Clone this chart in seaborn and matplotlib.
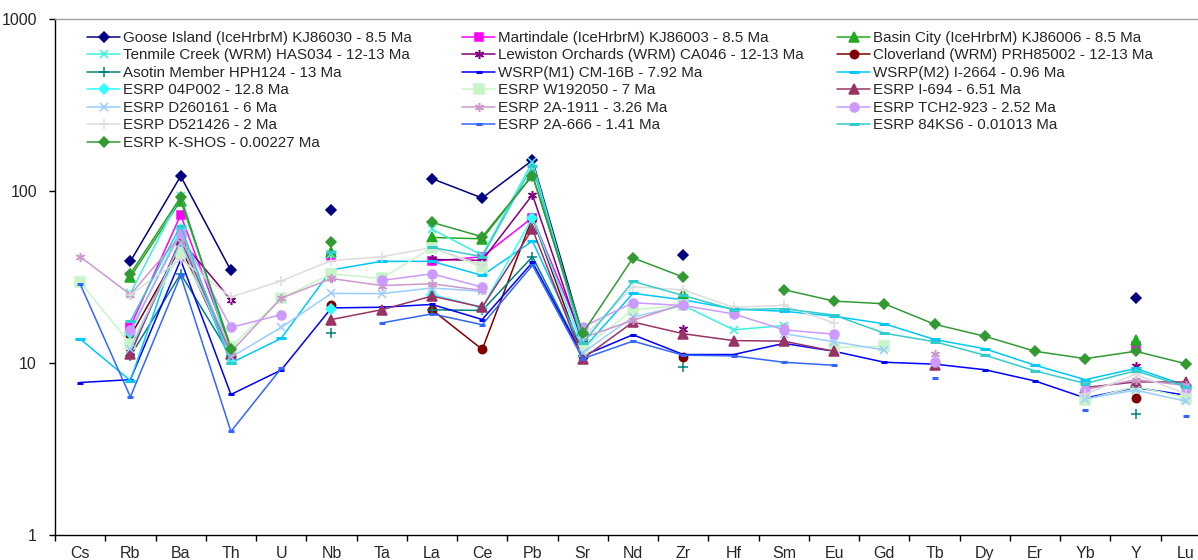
import numpy as np
import pandas as pd
import matplotlib
matplotlib.use("Agg")
import matplotlib.pyplot as plt
from matplotlib.lines import Line2D
import seaborn as sns

# ---------------------------------------------------------------- data
elements = ["Cs", "Rb", "Ba", "Th", "U", "Nb", "Ta", "La", "Ce", "Pb", "Sr", "Nd",
            "Zr", "Hf", "Sm", "Eu", "Gd", "Tb", "Dy", "Er", "Yb", "Y", "Lu"]
N = None

goose_island = [N, 39, 122, 34.5, N, 78, N, 118, 91, 151, 14.5, N, 42.5, N, N, N, N, N, N, N, N, 24, N]
martindale = [N, 16.3, 72.5, 12, N, 41.5, N, 39, 41.5, 70, 14, N, 22, N, N, N, N, N, N, N, N, 12.6, N]
basin_city = [N, 31.6, 88, 12.4, N, 44, N, 53.7, 52.7, 124, 14.5, N, 25.3, N, N, N, N, N, N, N, N, 13.6, N]
tenmile_creek = [N, 25.4, 94, 11, N, 43, N, 60, 42.3, 148, 13.5, N, 21.6, 15.6, 16.5, N, N, N, N, N, N, N, N]
lewiston_orchards = [N, 11.6, 52, 23.3, N, 31.3, N, 40, 39.5, 95, 13, N, 15.8, N, N, N, N, N, N, N, N, 9.55, N]
cloverland = [N, 14.3, 47, 11, N, 21.6, N, 20.4, 12.0, 70, 11, N, 10.8, N, N, N, N, N, N, N, N, 6.26, N]
asotin = [N, 11, 33, 11, N, 14.9, N, 20.4, 20.2, 41.5, 11, N, 9.5, N, N, N, N, N, N, N, N, 5.04, N]
wsrp_m1 = [7.7, 8.0, 39.8, 6.56, 9.1, 20.9, 21.1, 21.9, 17.9, 38.5, 11.0, 14.6, 11.2, 11.2, 13.0,
           11.7, 10.1, 9.85, 9.14, 7.86, 6.26, 7.2, 6.5]
wsrp_m2 = [13.8, 7.9, 55, 10.0, 13.9, 34.8, 39, 39, 32.3, 51.2, 12, 25.4, 23.3, 20.6, 20.0,
           18.7, 16.9, 13.7, 12.1, 9.7, 8.0, 9.3, 7.4]
esrp_04p002 = [N, 15, 60, 10.5, N, 20.6, N, 25, 21, 70, 12.5, N, N, N, N, N, N, N, N, N, N, N, N]
esrp_w192050 = [29.5, 12.9, 44, 12.4, 23.8, 33, 31, 46.9, 36, N, 12.1, 20.4, 21.6, N, N, 12.3, 12.5,
                N, N, N, 6.13, 7.3, 6.3]
esrp_i694 = [N, 11.3, 51.7, 11.3, N, 17.9, 20.4, 24.5, 21.1, 60, 10.6, 17.3, 14.8, 13.5, 13.4, 11.7,
             N, 9.7, N, N, 7.2, 7.76, 7.76]
esrp_d260161 = [N, 12, 50, 10.8, 16.1, 25.4, 25.3, 27.3, 26.1, N, 11.5, 18.5, 21.6, N, 14.8, 13.3,
                11.9, N, N, N, 6.2, 6.95, 6.0]
esrp_2a1911 = [41.5, 25, 55, 11.6, 23.8, 31, 28.2, 28.9, 26.4, N, 14, 17.7, 22, N, 16.3, N, N, 11.3,
               N, N, 7.0, 8.0, 7.4]
esrp_tch2923 = [N, 15.5, 57, 16.1, 19.1, N, 30.2, 33, 27.6, N, 16.2, 22.4, 21.6, 19.3, 15.6, 14.7,
                N, 10.1, N, N, 6.95, N, 7.1]
esrp_d521426 = [N, 25, 40, 24.2, 30, 39.4, 41.5, 46.9, 37, N, 14, 27.8, 26.6, 21.1, 21.6, 17.1,
                N, N, N, N, 6.6, 8.6, 6.6]
esrp_2a666 = [28.8, 6.35, 32.3, 4.0, 9.3, N, 17.1, 19.3, 16.7, 37, 10.6, 13.4, 11.1, 11.0, 10.1, 9.7,
              N, 8.2, N, N, 5.35, N, 4.93]
esrp_84ks6 = [N, 17.5, 63, 10, N, 44, N, 47, 41.5, 140, 13, 29.8, 24.7, 20.4, 20.7, 19.0, 14.9, 13.3,
              11.1, 9.0, 7.6, 9.0, 7.3]
esrp_kshos = [N, 33, 92, 12, N, 50.4, N, 65.7, 54.2, 123, 14.9, 40.8, 31.6, N, 26.7, 22.9, 22.1, 16.8,
              14.3, 11.7, 10.6, 11.7, 9.9]

labels = [
    "Goose Island (IceHrbrM) KJ86030 - 8.5 Ma",
    "Martindale (IceHrbrM) KJ86003 - 8.5 Ma",
    "Basin City (IceHrbrM) KJ86006 - 8.5 Ma",
    "Tenmile Creek (WRM) HAS034 - 12-13 Ma",
    "Lewiston Orchards (WRM) CA046 - 12-13 Ma",
    "Cloverland (WRM) PRH85002 - 12-13 Ma",
    "Asotin Member HPH124 - 13 Ma",
    "WSRP(M1) CM-16B - 7.92 Ma",
    "WSRP(M2) I-2664 - 0.96 Ma",
    "ESRP 04P002 - 12.8 Ma",
    "ESRP W192050 - 7 Ma",
    "ESRP I-694 - 6.51 Ma",
    "ESRP D260161 - 6 Ma",
    "ESRP 2A-1911 - 3.26 Ma",
    "ESRP TCH2-923 - 2.52 Ma",
    "ESRP D521426 - 2 Ma",
    "ESRP 2A-666 - 1.41 Ma",
    "ESRP 84KS6 - 0.01013 Ma",
    "ESRP K-SHOS - 0.00227 Ma",
]
values = [goose_island, martindale, basin_city, tenmile_creek, lewiston_orchards, cloverland,
          asotin, wsrp_m1, wsrp_m2, esrp_04p002, esrp_w192050, esrp_i694, esrp_d260161,
          esrp_2a1911, esrp_tch2923, esrp_d521426, esrp_2a666, esrp_84ks6, esrp_kshos]

# ---------------------------------------------------------------- styles
ASTER = (6, 2, 0)
styles = [
    ("#000080", "D", 5.5),
    ("#FF00FF", "s", 5.5),
    ("#22AA22", "^", 6.5),
    ("#3CF0E0", "x", 5.5),
    ("#800080", ASTER, 6.5),
    ("#800000", "o", 6.0),
    ("#008080", "+", 6.5),
    ("#0000FF", "_", 5.0),
    ("#00C8F8", "_", 7.0),
    ("#33FFFF", "D", 5.5),
    ("#C8F5C8", "s", 6.5),
    ("#993366", "^", 6.5),
    ("#99CCFF", "x", 5.5),
    ("#CC99CC", ASTER, 6.5),
    ("#CC99FF", "o", 6.5),
    ("#DCDCDC", "+", 6.5),
    ("#3366FF", "_", 4.5),
    ("#33CCCC", "_", 7.0),
    ("#339933", "D", 5.5),
]

W, H = 1198, 560
sns.set_theme(style="white")
plt.rcParams["font.family"] = ["Liberation Sans", "DejaVu Sans"]

fig = plt.figure(figsize=(W / 100, H / 100), dpi=100)
ax = fig.add_axes([55 / W, 1 - 535 / H, (1211 - 55) / W, (535 - 19) / H])
ax.set_yscale("log")

xs = np.arange(len(elements))
handles = []
for lab, vals, (col, mk, ms) in zip(labels, values, styles):
    y = np.array([np.nan if v is None else v for v in vals], dtype=float)
    seg = np.cumsum(np.isnan(y))
    df = pd.DataFrame({"x": xs, "y": y, "seg": seg}).dropna()
    mew = 2.2 if mk == "_" else 1.1
    sns.lineplot(data=df, x="x", y="y", units="seg", estimator=None, sort=False,
                 color=col, marker=mk, markersize=ms, markeredgecolor=col,
                 markerfacecolor=col, markeredgewidth=mew, linewidth=1.1,
                 legend=False, ax=ax)
    handles.append(Line2D([], [], color=col, marker=mk, markersize=ms, markeredgecolor=col,
                          markerfacecolor=col, markeredgewidth=mew, linewidth=1.1))

# ---------------------------------------------------------------- axes
ax.set_xlim(-0.5, len(elements) - 0.5)
ax.set_ylim(1, 1000)
ax.set_xlabel("")
ax.set_ylabel("")

ax.set_yticks([1, 10, 100, 1000])
ax.set_yticklabels(["1", "10", "100", "1000"])
ax.yaxis.set_minor_locator(matplotlib.ticker.NullLocator())

ax.set_xticks(np.arange(-0.5, len(elements), 1.0))
ax.set_xticklabels([])
ax.set_xticks(xs, minor=True)
ax.set_xticklabels(elements, minor=True)

ax.tick_params(axis="y", which="major", direction="out", length=4, width=1, color="black",
               labelsize=11.5, pad=9, left=True)
ax.tick_params(axis="x", which="major", direction="out", length=4, width=1, color="black",
               bottom=True, labelbottom=False)
ax.tick_params(axis="x", which="minor", length=0, labelsize=11.5, pad=8, bottom=True)

for side in ("left", "bottom"):
    ax.spines[side].set_color("black")
    ax.spines[side].set_linewidth(1.0)
ax.spines["top"].set_color("#A0A0A0")
ax.spines["top"].set_linewidth(1.0)
ax.spines["right"].set_visible(False)
ax.grid(False)

# ---------------------------------------------------------------- legend (3 columns, row order)
col_idx = [[0, 3, 6, 9, 12, 15, 18], [1, 4, 7, 10, 13, 16], [2, 5, 8, 11, 14, 17]]
col_x = [87, 462, 837]
for idx, x0 in zip(col_idx, col_x):
    fig.legend([handles[i] for i in idx], [labels[i] for i in idx],
               loc="upper left", bbox_to_anchor=(x0 / W, 1 - 31 / H),
               bbox_transform=fig.transFigure, frameon=False, borderpad=0,
               borderaxespad=0, handlelength=2.2, handletextpad=0.15,
               labelspacing=0.23, fontsize=10.9)

fig.savefig("out.png", dpi=100)
